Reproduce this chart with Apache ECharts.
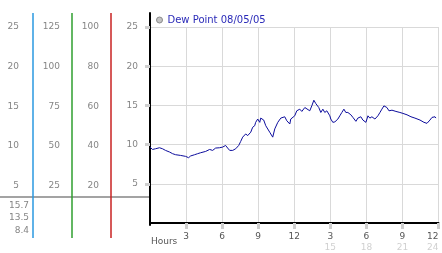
<!DOCTYPE html>
<html><head><meta charset="utf-8">
<script src="https://cdn.jsdelivr.net/npm/echarts@6/dist/echarts.min.js"></script>
<style>html,body{margin:0;padding:0;background:#fff}#c{width:442px;height:253px}</style>
</head><body><div id="c"></div>
<script>
const seriesName = 'Dew Point 08/05/05';
const hours = [0,0.21,0.46,0.79,1.04,1.29,1.63,1.88,2.13,2.54,2.96,3.21,3.38,3.71,3.96,4.21,4.63,4.96,5.21,5.46,5.79,6.04,6.29,6.46,6.63,6.88,7.13,7.38,7.54,7.71,
  7.96,8.13,8.38,8.54,8.71,8.79,8.96,9.13,9.21,9.46,9.63,9.96,10.21,10.38,10.63,10.88,11.04,11.21,11.38,11.63,11.71,12.04,12.21,12.46,12.63,12.88,13.04,13.29,13.46,13.63,13.79,14.04,14.21,14.38,14.54,14.71,14.96,15.04,15.21,15.38,
  15.63,15.79,15.96,16.13,16.29,16.46,16.71,16.88,17.13,17.29,17.54,17.71,17.96,18.13,18.29,18.46,18.71,18.96,19.13,19.29,19.46,19.71,19.88,20.13,20.46,20.79,21.04,21.38,21.71,22.04,22.46,22.79,23.04,23.29,23.46,23.71,23.79];
const dewPoint = [9.68,9.38,9.47,9.60,9.47,9.26,9.05,8.84,8.71,8.62,8.50,8.33,8.55,8.71,8.84,8.96,9.13,9.38,9.26,9.56,9.60,9.68,9.89,9.56,9.26,9.26,9.47,9.89,10.39,10.95,
  11.36,11.15,11.58,12.21,12.41,12.84,13.26,12.84,13.38,13.13,12.41,11.58,10.95,12.0,12.84,13.38,13.13,13.55,13.04,12.63,13.26,13.67,14.31,14.52,14.23,14.73,14.81,14.31,14.94,15.66,15.24,14.73,14.10,14.52,14.10,14.31,13.67,13.26,12.84,12.9,
  13.26,13.67,14.10,14.52,14.10,14.10,13.80,13.47,12.97,13.38,13.55,13.13,12.84,13.67,13.38,13.55,13.26,13.67,14.10,14.52,14.94,14.73,14.31,14.39,14.23,14.10,13.98,13.80,13.55,13.38,13.13,12.84,12.71,13.13,13.47,13.55,13.38];
const xTickValues = [3,6,9,12,15,18,21,24];
const xTickLabels = ['3','6','9','12','3','6','9','12'];
const xSubLabels = ['','','','','15','18','21','24'];
const yTickValues = [5,10,15,20,25];
const scaleA = ['5','10','15','20','25'];
const scaleB = ['25','50','75','100','125'];
const scaleC = ['20','40','60','80','100'];
const statLabels = ['15.7','13.5','8.4'];

const FONT = 'DejaVu Sans';
const LBL = '#858585';
const GRID_LEFT = 150;
const chart = echarts.init(document.getElementById('c'));
const pairs = hours.map((h, i) => [h, dewPoint[i]]);

const panels = [
  {labels: scaleC, factor: 4, offset: 39, color: '#c82222', margin: 12},
  {labels: scaleB, factor: 5, offset: 78, color: '#2f9f2f', margin: 12},
  {labels: scaleA, factor: 1, offset: 117, color: '#2a98e0', margin: 14}
];

function panelAxis(p) {
  const vals = p.labels.map(Number);
  return {
    type: 'value', gridIndex: 2, position: 'left', offset: p.offset,
    min: -1.641 * p.factor, max: 26.768 * p.factor,
    axisLine: {show: false, onZero: false},
    axisTick: {show: false}, splitLine: {show: false},
    axisLabel: {
      customValues: vals, margin: p.margin, fontFamily: FONT, fontSize: 9, color: LBL,
      formatter: v => p.labels[vals.indexOf(v)]
    }
  };
}

const panelLines = panels.map(p => ({
  type: 'line', z: 100,
  shape: {x1: GRID_LEFT - p.offset, y1: 13, x2: GRID_LEFT - p.offset, y2: 238},
  style: {stroke: p.color, lineWidth: 1.5}
}));

chart.setOption({
  animation: false,
  textStyle: {fontFamily: FONT},
  grid: [
    {left: GRID_LEFT, right: 3.5, top: 27, bottom: 28},
    {left: GRID_LEFT, right: 3.5, top: 13, bottom: 28},
    {left: GRID_LEFT, right: 3.5, top: 13, bottom: 15}
  ],
  legend: {
    left: 156, top: 15, padding: 0, itemWidth: 6, itemHeight: 6, icon: 'circle',
    data: [{name: seriesName, itemStyle: {color: '#c4c4c4', borderColor: '#8a8a8a', borderWidth: 1}}],
    textStyle: {fontFamily: FONT, fontSize: 10, color: '#2a2ab8'}
  },
  xAxis: [
    {
      type: 'value', gridIndex: 0, min: 0, max: 24, interval: 3,
      name: 'Hours', nameLocation: 'start', nameGap: -3,
      nameTextStyle: {align: 'left', verticalAlign: 'top', padding: [14, 0, 0, 0], fontFamily: FONT, fontSize: 9, color: '#555'},
      axisLine: {show: true, onZero: false, lineStyle: {color: '#000', width: 2}},
      axisTick: {show: true, customValues: xTickValues, length: 6, lineStyle: {color: '#cfcfcf', width: 3}},
      splitLine: {show: true, lineStyle: {color: '#d9d9d9', width: 1}},
      axisLabel: {
        customValues: xTickValues, margin: 8, alignMaxLabel: 'right', lineHeight: 11,
        formatter: v => {
          const i = xTickValues.indexOf(v);
          return xSubLabels[i] ? '{a|' + xTickLabels[i] + '}\n{b|' + xSubLabels[i] + '}' : '{a|' + xTickLabels[i] + '}';
        },
        rich: {
          a: {fontFamily: FONT, fontSize: 9, color: '#555', lineHeight: 11},
          b: {fontFamily: FONT, fontSize: 9, color: '#d0d0d0', lineHeight: 11}
        }
      }
    },
    {type: 'value', gridIndex: 1, min: 0, max: 24, show: false},
    {type: 'value', gridIndex: 2, min: 0, max: 24, show: false}
  ],
  yAxis: [
    {
      type: 'value', gridIndex: 0, min: 0, max: 25, interval: 5,
      axisLine: {show: false, onZero: false},
      axisTick: {show: true, customValues: yTickValues, length: 5, lineStyle: {color: '#cfcfcf', width: 3}},
      splitLine: {show: true, lineStyle: {color: '#d9d9d9', width: 1}},
      axisLabel: {customValues: yTickValues, margin: 12, fontFamily: FONT, fontSize: 9, color: LBL,
        formatter: v => scaleA[yTickValues.indexOf(v)]}
    },
    {
      type: 'value', gridIndex: 1, min: 0, max: 26.768, position: 'left',
      axisLine: {show: true, onZero: false, lineStyle: {color: '#000', width: 2}},
      axisTick: {show: false}, axisLabel: {show: false}, splitLine: {show: false}
    }
  ].concat(panels.map(panelAxis)),
  graphic: [
    {type: 'line', shape: {x1: 0, y1: 197, x2: 149, y2: 197}, style: {stroke: '#a3a3a3', lineWidth: 2}, z: 1},
    {type: 'text', style: {text: statLabels[0], x: 29, y: 205.5, textAlign: 'right', textVerticalAlign: 'middle', fill: LBL, font: '9px "DejaVu Sans"'}},
    {type: 'text', style: {text: statLabels[1], x: 29, y: 218, textAlign: 'right', textVerticalAlign: 'middle', fill: LBL, font: '9px "DejaVu Sans"'}},
    {type: 'text', style: {text: statLabels[2], x: 29, y: 230.5, textAlign: 'right', textVerticalAlign: 'middle', fill: LBL, font: '9px "DejaVu Sans"'}}
  ].concat(panelLines),
  series: [{
    name: seriesName, type: 'line', xAxisIndex: 0, yAxisIndex: 0,
    data: pairs, showSymbol: false, symbol: 'none',
    lineStyle: {color: '#0c0c9c', width: 1}, itemStyle: {color: '#0c0c9c'}
  }]
});
</script></body></html>
